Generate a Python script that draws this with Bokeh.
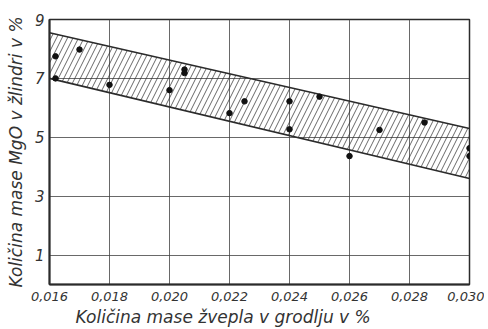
from bokeh.plotting import figure
from bokeh.models import FixedTicker, Range1d, Title
from bokeh.embed import file_html
from bokeh.resources import INLINE

# data
pts_x = [0.0162, 0.0162, 0.0170, 0.0180, 0.0200, 0.0205, 0.0205, 0.0220, 0.0225,
         0.0240, 0.0240, 0.0250, 0.0260, 0.0270, 0.0285, 0.0300, 0.0300]
pts_y = [7.75, 7.0, 7.98, 6.78, 6.6, 7.3, 7.18, 5.82, 6.22,
         6.22, 5.27, 6.38, 4.36, 5.25, 5.5, 4.63, 4.36]
band_x = [0.016, 0.030]
band_upper = [8.55, 5.3]
band_lower = [7.0, 3.6]
x_ticks = [0.016, 0.018, 0.020, 0.022, 0.024, 0.026, 0.028, 0.030]
x_tick_labels = ["0,016", "0,018", "0,020", "0,022", "0,024", "0,026", "0,028", "0,030"]
y_ticks = [1, 3, 5, 7, 9]
x_label = "Količina mase žvepla v grodlju v %"
y_label = "Količina mase MgO v žlindri v %"

ink = "#2b2b2b"
font = "DejaVu Sans"

p = figure(width=484, height=329, output_backend="svg", toolbar_location=None,
           x_range=Range1d(0.016, 0.030), y_range=Range1d(0, 9),
           min_border_left=49, min_border_right=15, min_border_top=19, min_border_bottom=45)

# hatched band
px = band_x + band_x[::-1]
py = band_upper + band_lower[::-1]
p.patch(px, py, fill_alpha=0, line_alpha=0, hatch_pattern="/", hatch_color=ink,
        hatch_scale=11, hatch_weight=0.8, hatch_alpha=0.9)
p.line(band_x, band_upper, line_color=ink, line_width=1.6)
p.line(band_x, band_lower, line_color=ink, line_width=1.6)

p.scatter(pts_x, pts_y, size=5.5, color="#111111")

p.xaxis.ticker = FixedTicker(ticks=x_ticks)
p.xaxis.major_label_overrides = {t: l for t, l in zip(x_ticks, x_tick_labels)}
p.yaxis.ticker = FixedTicker(ticks=y_ticks)

for ax in (p.xaxis[0], p.yaxis[0]):
    ax.axis_line_width = 2
    ax.axis_line_color = ink
    ax.major_tick_out = 0
    ax.major_tick_in = 0
    ax.minor_tick_out = 0
    ax.minor_tick_in = 0
    ax.major_label_text_font = font
    ax.major_label_text_font_style = "italic"
    ax.major_label_text_color = "#333333"
    ax.axis_label_text_font = font
    ax.axis_label_text_font_style = "italic"
    ax.axis_label_text_color = "#333333"
    ax.axis_label_text_font_size = "17px"

p.yaxis.axis_label = y_label
p.xaxis.major_label_text_font_size = "13px"
p.yaxis.major_label_text_font_size = "15px"
p.xaxis.major_label_standoff = 7
p.yaxis.major_label_standoff = 5
p.yaxis.axis_label_standoff = 6

xt = Title(text=x_label, align="left", offset=26, standoff=2,
           text_font=font, text_font_style="italic", text_font_size="17px",
           text_color="#333333")
p.add_layout(xt, "below")

p.grid.grid_line_color = "#444444"
p.grid.grid_line_width = 1
p.grid.grid_line_alpha = 0.8
p.outline_line_color = ink
p.outline_line_width = 1.5
p.outline_line_alpha = 1

open("out.html", "w").write(file_html(p, INLINE))
